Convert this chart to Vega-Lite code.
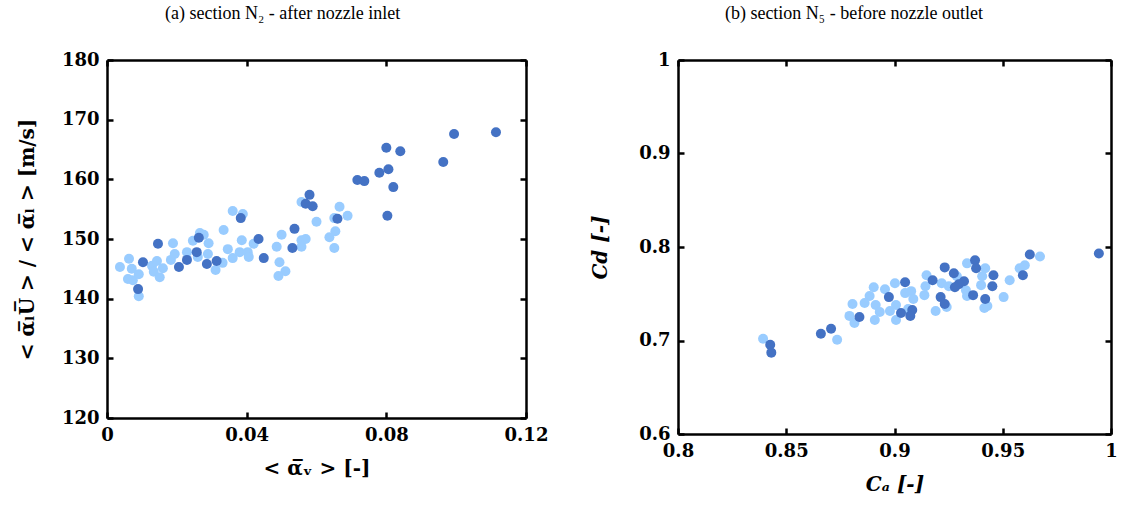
{
  "$schema": "https://vega.github.io/schema/vega-lite/v6.json",
  "background": "white",
  "padding": {"left": 17, "top": 5, "right": 2, "bottom": 5},
  "config": {
    "view": {"stroke": null},
    "axis": {
      "domainColor": "black", "domainWidth": 2.5, "tickColor": "black", "tickWidth": 2.5, "tickSize": -6,
      "grid": false, "labelFont": "DejaVu Serif", "labelFontWeight": "bold", "labelFontSize": 18, "labelColor": "black",
      "titleFont": "DejaVu Serif", "titleFontWeight": "bold", "titleFontSize": 20, "titleColor": "black", "labelPadding": 14,
      "format": ".3~g", "labelFlush": false
    },
    "title": {"font": "Liberation Serif", "fontSize": 18, "fontWeight": "normal", "color": "black", "frame": "bounds", "anchor": "middle", "offset": 28}
  },
  "datasets": {
    "left": [
      {"x":0.0037,"y":145.3,"s":"L"},{"x":0.0063,"y":146.7,"s":"L"},{"x":0.0071,"y":145.0,"s":"L"},{"x":0.0060,"y":143.3,"s":"L"},
      {"x":0.0074,"y":143.1,"s":"L"},{"x":0.0091,"y":144.1,"s":"L"},{"x":0.0091,"y":140.4,"s":"L"},{"x":0.0129,"y":145.5,"s":"L"},
      {"x":0.0143,"y":146.3,"s":"L"},{"x":0.0134,"y":144.5,"s":"L"},{"x":0.0151,"y":143.6,"s":"L"},{"x":0.0160,"y":145.1,"s":"L"},
      {"x":0.0189,"y":149.3,"s":"L"},{"x":0.0183,"y":146.5,"s":"L"},{"x":0.0194,"y":147.5,"s":"L"},{"x":0.0229,"y":147.8,"s":"L"},
      {"x":0.0246,"y":149.7,"s":"L"},{"x":0.0266,"y":151.0,"s":"L"},{"x":0.0277,"y":150.7,"s":"L"},{"x":0.0291,"y":149.3,"s":"L"},
      {"x":0.0260,"y":147.0,"s":"L"},{"x":0.0289,"y":147.5,"s":"L"},{"x":0.0311,"y":144.8,"s":"L"},{"x":0.0331,"y":146.0,"s":"L"},
      {"x":0.0334,"y":151.5,"s":"L"},{"x":0.0360,"y":154.7,"s":"L"},{"x":0.0389,"y":154.2,"s":"L"},{"x":0.0346,"y":148.3,"s":"L"},
      {"x":0.0360,"y":146.8,"s":"L"},{"x":0.0386,"y":149.8,"s":"L"},{"x":0.0380,"y":147.8,"s":"L"},{"x":0.0403,"y":147.8,"s":"L"},
      {"x":0.0406,"y":147.0,"s":"L"},{"x":0.0420,"y":149.2,"s":"L"},{"x":0.0486,"y":148.7,"s":"L"},{"x":0.0500,"y":150.7,"s":"L"},
      {"x":0.0494,"y":146.1,"s":"L"},{"x":0.0511,"y":144.6,"s":"L"},{"x":0.0491,"y":143.8,"s":"L"},{"x":0.0557,"y":156.2,"s":"L"},
      {"x":0.0557,"y":149.8,"s":"L"},{"x":0.0569,"y":150.0,"s":"L"},{"x":0.0557,"y":148.7,"s":"L"},{"x":0.0600,"y":152.9,"s":"L"},
      {"x":0.0666,"y":155.4,"s":"L"},{"x":0.0651,"y":153.5,"s":"L"},{"x":0.0689,"y":153.9,"s":"L"},{"x":0.0654,"y":151.3,"s":"L"},
      {"x":0.0637,"y":150.3,"s":"L"},{"x":0.0651,"y":148.5,"s":"L"},
      {"x":0.0103,"y":146.1,"s":"D"},{"x":0.0089,"y":141.6,"s":"D"},{"x":0.0146,"y":149.2,"s":"D"},{"x":0.0206,"y":145.3,"s":"D"},
      {"x":0.0229,"y":146.5,"s":"D"},{"x":0.0257,"y":147.8,"s":"D"},{"x":0.0263,"y":150.2,"s":"D"},{"x":0.0286,"y":145.8,"s":"D"},
      {"x":0.0314,"y":146.3,"s":"D"},{"x":0.0383,"y":153.5,"s":"D"},{"x":0.0434,"y":150.0,"s":"D"},{"x":0.0449,"y":146.8,"s":"D"},
      {"x":0.0537,"y":151.7,"s":"D"},{"x":0.0531,"y":148.5,"s":"D"},{"x":0.0580,"y":157.4,"s":"D"},{"x":0.0569,"y":155.9,"s":"D"},
      {"x":0.0589,"y":155.5,"s":"D"},{"x":0.0660,"y":153.4,"s":"D"},{"x":0.0717,"y":159.9,"s":"D"},{"x":0.0737,"y":159.7,"s":"D"},
      {"x":0.0800,"y":165.3,"s":"D"},{"x":0.0840,"y":164.7,"s":"D"},{"x":0.0780,"y":161.1,"s":"D"},{"x":0.0806,"y":161.7,"s":"D"},
      {"x":0.0820,"y":158.7,"s":"D"},{"x":0.0803,"y":153.9,"s":"D"},{"x":0.0963,"y":162.9,"s":"D"},{"x":0.0994,"y":167.6,"s":"D"},
      {"x":0.1114,"y":167.9,"s":"D"}
    ],
    "right": [
      {"x":0.8393,"y":0.7019,"s":"L"},{"x":0.8735,"y":0.7008,"s":"L"},{"x":0.8904,"y":0.7570,"s":"L"},{"x":0.8956,"y":0.7549,"s":"L"},
      {"x":0.9002,"y":0.7613,"s":"L"},{"x":0.8885,"y":0.7475,"s":"L"},{"x":0.8806,"y":0.7390,"s":"L"},{"x":0.8862,"y":0.7401,"s":"L"},
      {"x":0.8913,"y":0.7379,"s":"L"},{"x":0.8792,"y":0.7263,"s":"L"},{"x":0.8815,"y":0.7188,"s":"L"},{"x":0.8909,"y":0.7220,"s":"L"},
      {"x":0.8932,"y":0.7305,"s":"L"},{"x":0.8979,"y":0.7316,"s":"L"},{"x":0.9007,"y":0.7379,"s":"L"},{"x":0.9007,"y":0.7220,"s":"L"},
      {"x":0.9672,"y":0.7899,"s":"L"},{"x":0.9602,"y":0.7804,"s":"L"},{"x":0.9578,"y":0.7772,"s":"L"},{"x":0.9532,"y":0.7645,"s":"L"},
      {"x":0.9504,"y":0.7464,"s":"L"},{"x":0.9419,"y":0.7772,"s":"L"},{"x":0.9335,"y":0.7825,"s":"L"},{"x":0.9405,"y":0.7687,"s":"L"},
      {"x":0.9400,"y":0.7592,"s":"L"},{"x":0.9148,"y":0.7698,"s":"L"},{"x":0.9143,"y":0.7581,"s":"L"},{"x":0.9218,"y":0.7613,"s":"L"},
      {"x":0.9251,"y":0.7581,"s":"L"},{"x":0.9288,"y":0.7687,"s":"L"},{"x":0.9330,"y":0.7538,"s":"L"},{"x":0.9335,"y":0.7475,"s":"L"},
      {"x":0.9049,"y":0.7507,"s":"L"},{"x":0.9077,"y":0.7528,"s":"L"},{"x":0.9087,"y":0.7443,"s":"L"},{"x":0.9063,"y":0.7337,"s":"L"},
      {"x":0.9190,"y":0.7316,"s":"L"},{"x":0.9241,"y":0.7358,"s":"L"},{"x":0.9415,"y":0.7347,"s":"L"},{"x":0.9429,"y":0.7369,"s":"L"},
      {"x":0.9138,"y":0.7485,"s":"L"},
      {"x":0.8426,"y":0.6955,"s":"D"},{"x":0.8431,"y":0.6870,"s":"D"},{"x":0.8660,"y":0.7072,"s":"D"},{"x":0.8707,"y":0.7125,"s":"D"},
      {"x":0.8838,"y":0.7252,"s":"D"},{"x":0.8974,"y":0.7464,"s":"D"},{"x":0.9944,"y":0.7931,"s":"D"},{"x":0.9625,"y":0.7920,"s":"D"},
      {"x":0.9593,"y":0.7698,"s":"D"},{"x":0.9372,"y":0.7857,"s":"D"},{"x":0.9377,"y":0.7772,"s":"D"},{"x":0.9232,"y":0.7782,"s":"D"},
      {"x":0.9274,"y":0.7719,"s":"D"},{"x":0.9457,"y":0.7698,"s":"D"},{"x":0.9452,"y":0.7581,"s":"D"},{"x":0.9321,"y":0.7634,"s":"D"},
      {"x":0.9297,"y":0.7602,"s":"D"},{"x":0.9279,"y":0.7570,"s":"D"},{"x":0.9176,"y":0.7645,"s":"D"},{"x":0.9049,"y":0.7623,"s":"D"},
      {"x":0.9213,"y":0.7464,"s":"D"},{"x":0.9232,"y":0.7390,"s":"D"},{"x":0.9363,"y":0.7485,"s":"D"},{"x":0.9419,"y":0.7443,"s":"D"},
      {"x":0.9030,"y":0.7294,"s":"D"},{"x":0.9082,"y":0.7326,"s":"D"},{"x":0.9073,"y":0.7263,"s":"D"}
    ]
  },
  "spacing": 42,
  "hconcat": [
    {
      "title": {"text": "(a) section N₂ - after nozzle inlet"},
      "width": 419, "height": 358,
      "resolve": {"axis": {"x": "independent", "y": "independent"}},
      "layer": [
        {
          "data": {"name": "left"},
          "mark": {"type": "circle", "size": 100, "opacity": 1},
          "encoding": {
            "x": {"field": "x", "type": "quantitative", "scale": {"domain": [0, 0.12], "nice": false, "zero": false},
                  "axis": {"values": [0, 0.04, 0.08, 0.12], "title": "< α̅ᵥ > [-]", "titlePadding": 14}},
            "y": {"field": "y", "type": "quantitative", "scale": {"domain": [120, 180], "nice": false, "zero": false},
                  "axis": {"values": [120, 130, 140, 150, 160, 170, 180], "title": "< α̅ₗU̅ > / < α̅ₗ > [m/s]", "titlePadding": 24}},
            "color": {"field": "s", "type": "nominal", "scale": {"domain": ["L", "D"], "range": ["#99ccff", "#4472c4"]}, "legend": null}
          }
        },
        {
          "data": {"name": "left"},
          "mark": {"type": "circle", "opacity": 0},
          "encoding": {
            "x": {"field": "x", "type": "quantitative", "axis": {"orient": "top", "values": [0, 0.04, 0.08, 0.12], "labels": false, "title": null}},
            "y": {"field": "y", "type": "quantitative", "axis": {"orient": "right", "values": [120, 130, 140, 150, 160, 170, 180], "labels": false, "title": null}}
          }
        }
      ]
    },
    {
      "title": {"text": "(b) section N₅ - before nozzle outlet"},
      "width": 433, "height": 374,
      "resolve": {"axis": {"x": "independent", "y": "independent"}},
      "layer": [
        {
          "data": {"name": "right"},
          "mark": {"type": "circle", "size": 100, "opacity": 1},
          "encoding": {
            "x": {"field": "x", "type": "quantitative", "scale": {"domain": [0.8, 1], "nice": false, "zero": false},
                  "axis": {"values": [0.8, 0.85, 0.9, 0.95, 1], "title": "Cₐ [-]", "titlePadding": 14, "titleFontStyle": "italic"}},
            "y": {"field": "y", "type": "quantitative", "scale": {"domain": [0.6, 1], "nice": false, "zero": false},
                  "axis": {"values": [0.6, 0.7, 0.8, 0.9, 1], "title": "Cd [-]", "titlePadding": 28, "titleFontStyle": "italic"}},
            "color": {"field": "s", "type": "nominal", "scale": {"domain": ["L", "D"], "range": ["#99ccff", "#4472c4"]}, "legend": null}
          }
        },
        {
          "data": {"name": "right"},
          "mark": {"type": "circle", "opacity": 0},
          "encoding": {
            "x": {"field": "x", "type": "quantitative", "axis": {"orient": "top", "values": [0.8, 0.85, 0.9, 0.95, 1], "labels": false, "title": null}},
            "y": {"field": "y", "type": "quantitative", "axis": {"orient": "right", "values": [0.6, 0.7, 0.8, 0.9, 1], "labels": false, "title": null}}
          }
        }
      ]
    }
  ]
}
